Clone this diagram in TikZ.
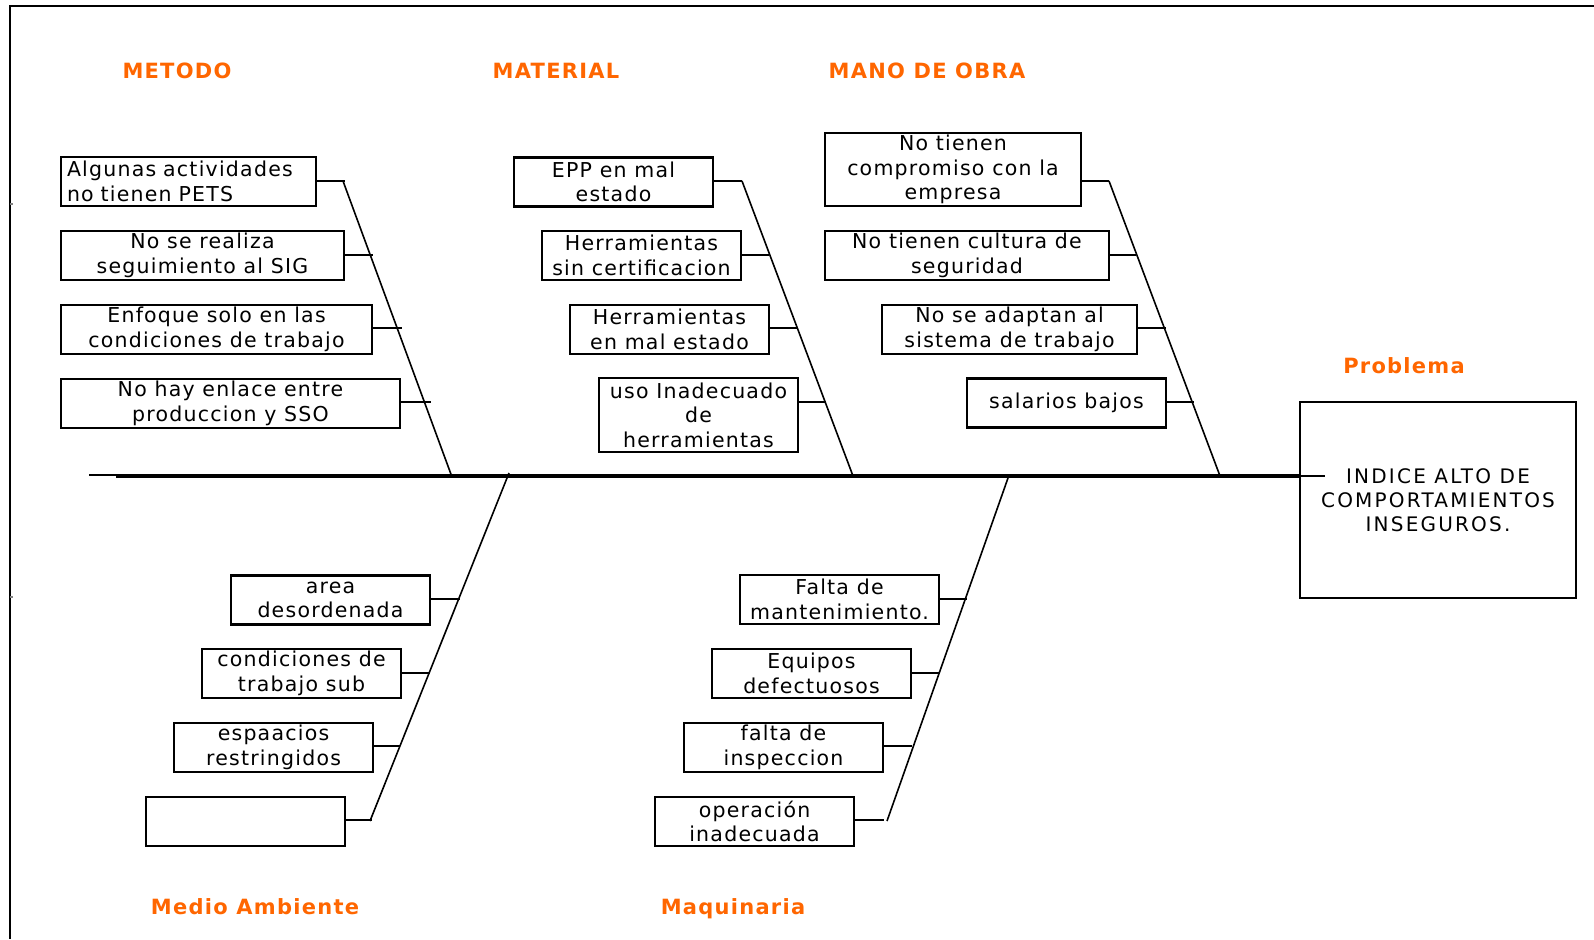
\documentclass[tikz,border=0pt]{standalone}
\usepackage{fontspec}
\setmainfont{DejaVu Sans}
\definecolor{lblorange}{RGB}{255,102,0}
\newcommand\boxfont{\fontsize{20.5}{24.5}\selectfont\addfontfeature{LetterSpace=6}}
\newcommand\lblfont{\fontsize{21}{25}\selectfont\bfseries\addfontfeature{LetterSpace=6}}
\newcommand\probfont{\fontsize{20}{24}\selectfont\addfontfeature{LetterSpace=11}}
\tikzset{
  cbox/.style={draw, line width=2.6pt, minimum height=49pt, inner sep=0pt, align=center, font=\boxfont},
  lbl/.style={text=lblorange, font=\lblfont, inner sep=0pt, anchor=base},
  bone/.style={line width=1.6pt},
  twig/.style={line width=2pt},
  spine/.style={line width=3.5pt},
  frameline/.style={line width=2.2pt},
}
\begin{document}
\begin{tikzpicture}[x=1pt,y=-1pt]
\useasboundingbox (0,0) rectangle (1594,939);
% frame
\coordinate (fTR) at (1594,6);
\coordinate (fTL) at (10,6);
\coordinate (fBL) at (10,939);
\draw[frameline] (fTR) -- (fTL) -- (fBL);
\coordinate (t1a) at (10,204); \coordinate (t1b) at (13,204);
\coordinate (t2a) at (10,597); \coordinate (t2b) at (13,597);
\draw[line width=1.5pt, gray] (t1a) -- (t1b);
\draw[line width=1.5pt, gray] (t2a) -- (t2b);

% labels
\node[lbl] (lMet) at (177,78.5) {METODO};
\node[lbl] (lMat) at (556,78.5) {MATERIAL};
\node[lbl] (lMan) at (927,78.5) {MANO DE OBRA};
\node[lbl] (lProb) at (1404,373.5) {Problema};
\node[lbl] (lMed) at (255,914.5) {Medio Ambiente};
\node[lbl] (lMaq) at (733,914.5) {Maquinaria};

% problem box
\node[draw, line width=2.6pt, minimum width=276pt, minimum height=196pt, align=center, font=\probfont, inner sep=0pt] (prob) at (1438,500)
  {INDICE ALTO DE\\COMPORTAMIENTOS\\INSEGUROS.};

% spine
\coordinate (spStub) at (89,475);
\coordinate (spL) at (116,476);
\coordinate (spR) at (1325,476);
\draw[line width=1.5pt] (spStub) -- (spStub -| spL);
\draw[spine] (spL) -- (spL -| prob.west);
\draw[line width=1.5pt] (spL -| prob.west) -- (spR);

% METODO
\node[cbox, minimum width=255pt, text width=243pt, align=left] (m1) at (188.5,181.5) {Algunas actividades\\no tienen PETS};
\node[cbox, minimum width=283pt] (m2) at (202.5,255.5) {No se realiza\\seguimiento al SIG};
\node[cbox, minimum width=311pt] (m3) at (216.5,329.5) {Enfoque solo en las\\condiciones de trabajo};
\node[cbox, minimum width=339pt] (m4) at (230.5,403.5) {No hay enlace entre\\produccion y SSO};
\coordinate (mTop) at (343,181);
\coordinate (mBot) at (452,477);
\draw[bone] (mTop) -- (mBot);
\coordinate (mE1) at (345,181);
\coordinate (mE2) at (373,255);
\coordinate (mE3) at (402,328);
\coordinate (mE4) at (431,402);
\draw[twig] (m1.east |- mE1) -- (mE1);
\draw[twig] (m2.east |- mE2) -- (mE2);
\draw[twig] (m3.east |- mE3) -- (mE3);
\draw[twig] (m4.east |- mE4) -- (mE4);

% MATERIAL
\node[cbox, minimum width=199pt] (a1) at (613.5,182) {EPP en mal\\estado};
\node[cbox, minimum width=199pt] (a2) at (641.5,255.5) {Herramientas\\sin certificacion};
\node[cbox, minimum width=199pt] (a3) at (669.5,329.5) {Herramientas\\en mal estado};
\node[cbox, minimum width=199pt, minimum height=74pt] (a4) at (698.5,415) {uso Inadecuado\\de\\herramientas};
\coordinate (aTop) at (742,181);
\coordinate (aBot) at (853,476);
\draw[bone] (aTop) -- (aBot);
\coordinate (aE1) at (742,181);
\coordinate (aE2) at (769,255);
\coordinate (aE3) at (797,328);
\coordinate (aE4) at (826,402);
\draw[twig] (a1.east |- aE1) -- (aE1);
\draw[twig] (a2.east |- aE2) -- (aE2);
\draw[twig] (a3.east |- aE3) -- (aE3);
\draw[twig] (a4.east |- aE4) -- (aE4);

% MANO DE OBRA
\node[cbox, minimum width=256pt, minimum height=73pt] (o1) at (953,169.5) {No tienen\\compromiso con la\\empresa};
\node[cbox, minimum width=284pt] (o2) at (967,255.5) {No tienen cultura de\\seguridad};
\node[cbox, minimum width=255pt] (o3) at (1009.5,329.5) {No se adaptan al\\sistema de trabajo};
\node[cbox, minimum width=199pt] (o4) at (1066.5,403) {salarios bajos};
\coordinate (oTop) at (1109,181);
\coordinate (oBot) at (1220,476);
\draw[bone] (oTop) -- (oBot);
\coordinate (oE1) at (1109,181);
\coordinate (oE2) at (1136,255);
\coordinate (oE3) at (1166,328);
\coordinate (oE4) at (1194,402);
\draw[twig] (o1.east |- oE1) -- (oE1);
\draw[twig] (o2.east |- oE2) -- (oE2);
\draw[twig] (o3.east |- oE3) -- (oE3);
\draw[twig] (o4.east |- oE4) -- (oE4);

% MEDIO AMBIENTE
\node[cbox, minimum width=199pt] (e1) at (330.5,600) {area\\desordenada};
\node[cbox, minimum width=199pt] (e2) at (301.5,673.5) {condiciones de\\trabajo sub};
\node[cbox, minimum width=199pt] (e3) at (273.5,747.5) {espaacios\\restringidos};
\node[cbox, minimum width=199pt] (e4) at (245.5,821.5) {};
\coordinate (eTop) at (509,473);
\coordinate (eBot) at (370,821);
\draw[bone] (eTop) -- (eBot);
\coordinate (eE1) at (460,599);
\coordinate (eE2) at (430,673);
\coordinate (eE3) at (400,746);
\coordinate (eE4) at (372,820);
\draw[twig] (e1.east |- eE1) -- (eE1);
\draw[twig] (e2.east |- eE2) -- (eE2);
\draw[twig] (e3.east |- eE3) -- (eE3);
\draw[twig] (e4.east |- eE4) -- (eE4);

% MAQUINARIA
\node[cbox, minimum width=199pt] (q1) at (839.5,599.5) {Falta de\\mantenimiento.};
\node[cbox, minimum width=199pt] (q2) at (811.5,673.5) {Equipos\\defectuosos};
\node[cbox, minimum width=199pt] (q3) at (783.5,747.5) {falta de\\inspeccion};
\node[cbox, minimum width=199pt] (q4) at (754.5,821.5) {operación\\inadecuada};
\coordinate (qTop) at (1008,478);
\coordinate (qBot) at (887,821);
\draw[bone] (qTop) -- (qBot);
\coordinate (qE1) at (967,599);
\coordinate (qE2) at (939,673);
\coordinate (qE3) at (912,746);
\coordinate (qE4) at (884,820);
\draw[twig] (q1.east |- qE1) -- (qE1);
\draw[twig] (q2.east |- qE2) -- (qE2);
\draw[twig] (q3.east |- qE3) -- (qE3);
\draw[twig] (q4.east |- qE4) -- (qE4);
\end{tikzpicture}
\end{document}
